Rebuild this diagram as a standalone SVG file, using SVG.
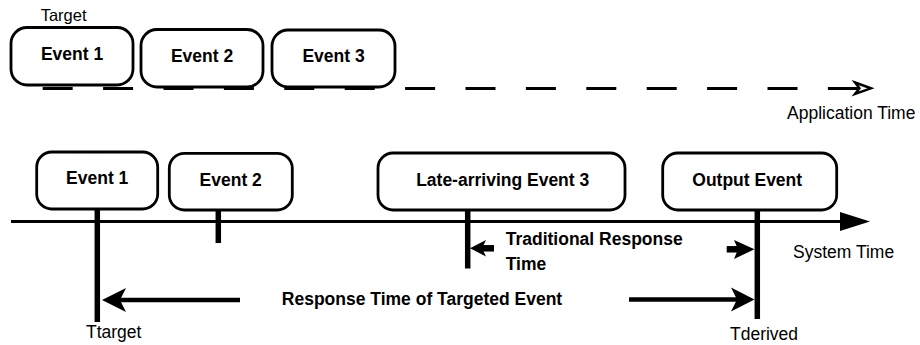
<svg xmlns="http://www.w3.org/2000/svg" width="920" height="345" viewBox="0 0 920 345">
  <style>
    .box { fill: #fff; stroke: #000; stroke-width: 2.8; }
    .lbl { font-family: "Liberation Sans", Arial, sans-serif; font-weight: bold; font-size: 17.5px; fill: #000; text-anchor: middle; }
    .txt { font-family: "Liberation Sans", Arial, sans-serif; font-size: 17.5px; fill: #000; }
    .bold { font-weight: bold; }
    .tick { stroke: #000; stroke-width: 5.5; fill: none; }
    .shaft { stroke: #000; stroke-width: 4.5; fill: none; }
    .head { fill: #000; stroke: none; }
  </style>

  <!-- Application time (top row) -->
  <text class="txt" x="40.7" y="21" style="font-size:16.5px">Target</text>

  <g id="app-event-1">
    <rect class="box" x="11" y="27.5" width="122" height="57.5" rx="16" ry="16"/>
    <text class="lbl" x="72" y="60">Event 1</text>
  </g>
  <g id="app-event-2">
    <rect class="box" x="141" y="29.5" width="122" height="57.5" rx="16" ry="16"/>
    <text class="lbl" x="202" y="62.3">Event 2</text>
  </g>
  <g id="app-event-3">
    <rect class="box" x="272" y="30" width="123" height="57" rx="16" ry="16"/>
    <text class="lbl" x="333.5" y="62.3">Event 3</text>
  </g>

  <!-- System time (bottom row) -->
  <g id="sys-event-1">
    <rect class="box" x="36.7" y="152" width="121" height="57" rx="15" ry="15"/>
    <text class="lbl" x="97.2" y="184">Event 1</text>
  </g>
  <g id="sys-event-2">
    <rect class="box" x="169.3" y="153.3" width="123" height="56.7" rx="15" ry="15"/>
    <text class="lbl" x="230.7" y="186">Event 2</text>
  </g>
  <g id="sys-event-3">
    <rect class="box" x="378" y="153" width="247" height="57" rx="15" ry="15"/>
    <text class="lbl" x="502.7" y="186">Late-arriving Event 3</text>
  </g>
  <g id="output-event">
    <rect class="box" x="662.7" y="153" width="174" height="57" rx="15" ry="15"/>
    <text class="lbl" x="747.2" y="186">Output Event</text>
  </g>

  <g id="connectors">
    <!-- application time axis: dashed with open arrowhead -->
    <line x1="42.7" y1="88.5" x2="858" y2="88.5" stroke="#000" stroke-width="3" stroke-dasharray="30 30.4"/>
    <path d="M855,82.5 L871,88.3 L855,94 L859.5,88.3 Z" fill="#fff" stroke="#000" stroke-width="2.4" stroke-linejoin="miter"/>

    <!-- system time axis -->
    <line x1="11" y1="221.5" x2="842" y2="221.5" stroke="#000" stroke-width="3"/>
    <path class="head" d="M840,212 L870,221.5 L840,231 Z"/>

    <!-- event ticks -->
    <line class="tick" x1="97.3" y1="209" x2="97.3" y2="322"/>
    <line class="tick" x1="218.3" y1="210" x2="218.3" y2="243"/>
    <line class="tick" x1="467.7" y1="210" x2="467.7" y2="268.5"/>
    <line class="tick" x1="757.3" y1="210" x2="757.3" y2="319"/>

    <!-- traditional response time arrows -->
    <line x1="480" y1="248.3" x2="494" y2="248.3" stroke="#000" stroke-width="6.5"/>
    <path class="head" d="M470,248.3 L486,240 L482,248.3 L486,256.5 Z"/>
    <line x1="726.7" y1="249.3" x2="742" y2="249.3" stroke="#000" stroke-width="6.5"/>
    <path class="head" d="M754.5,249.3 L734,240 L738,249.3 L734,259 Z"/>

    <!-- targeted event response time arrows -->
    <line class="shaft" x1="118" y1="300" x2="240" y2="300"/>
    <path class="head" d="M102,300 L126,288 L120,300 L126,312 Z"/>
    <line class="shaft" x1="629" y1="299.5" x2="738" y2="299.5"/>
    <path class="head" d="M754.5,299.5 L731,287.5 L737,299.5 L731,311.5 Z"/>
  </g>

  <!-- axis and interval labels -->
  <text class="txt" x="787" y="119">Application Time</text>
  <text class="txt" x="793" y="258.3">System Time</text>
  <text class="txt bold" x="505.7" y="245">Traditional Response</text>
  <text class="txt bold" x="505.7" y="270">Time</text>
  <text class="txt bold" x="422" y="305" text-anchor="middle">Response Time of Targeted Event</text>
  <text class="txt" x="86" y="338.3">Ttarget</text>
  <text class="txt" x="730" y="340">Tderived</text>
</svg>
